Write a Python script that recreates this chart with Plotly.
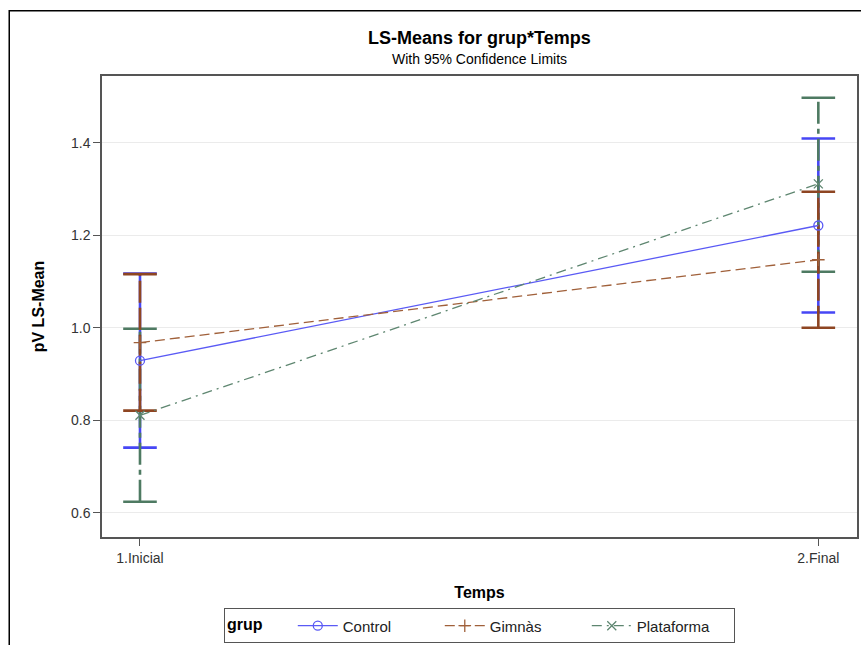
import plotly.graph_objects as go

categories = ["1.Inicial", "2.Final"]
groups = ["Control", "Gimnàs", "Plataforma"]

means = {
    "Control": [0.929, 1.221],
    "Gimnàs": [0.968, 1.147],
    "Plataforma": [0.811, 1.311],
}
lower = {
    "Control": [0.741, 1.033],
    "Gimnàs": [0.821, 1.000],
    "Plataforma": [0.624, 1.121],
}
upper = {
    "Control": [1.117, 1.409],
    "Gimnàs": [1.116, 1.294],
    "Plataforma": [0.998, 1.497],
}

colors = {"Control": "#4646F5", "Gimnàs": "#8E4522", "Plataforma": "#4E7A62"}
line_colors = {"Control": "#5A5AF5", "Gimnàs": "#A0603A", "Plataforma": "#5E8670"}
dashes = {"Control": "solid", "Gimnàs": "10px,5px", "Plataforma": "10px,5px,2px,5px"}
err_dashes = {"Control": "solid", "Gimnàs": "22px,5px", "Plataforma": "22px,5px,5px,5px"}
symbols = {"Control": "circle-open", "Gimnàs": "cross-thin-open", "Plataforma": "x-thin-open"}

FONT = "Liberation Sans, Arial, sans-serif"

fig = go.Figure()

# error bars (whiskers with caps)
for g in ["Control", "Plataforma", "Gimnàs"]:
    for i, c in enumerate(categories):
        fig.add_trace(go.Scatter(
            x=[c, c], y=[lower[g][i], upper[g][i]],
            mode="lines+markers",
            line=dict(color=colors[g], width=2.6, dash=err_dashes[g]),
            marker=dict(symbol="line-ew-open", size=24,
                        line=dict(color=colors[g], width=2.6)),
            showlegend=False, hoverinfo="skip",
        ))

# mean lines
for g in groups:
    fig.add_trace(go.Scatter(
        x=categories, y=means[g], name=g,
        mode="lines+markers",
        line=dict(color=line_colors[g], width=1.3, dash=dashes[g]),
        marker=dict(symbol=symbols[g], size=9,
                    color=line_colors[g],
                    line=dict(color=line_colors[g], width=1.3)),
    ))

fig.update_layout(
    width=861, height=645,
    margin=dict(l=102, r=2, t=76, b=103),
    paper_bgcolor="white", plot_bgcolor="white",
    font=dict(family=FONT, size=14, color="#222"),
    showlegend=True,
    legend=dict(
        orientation="h", x=0.5, xanchor="center", y=-0.155, yanchor="top",
        bordercolor="#555", borderwidth=1,
        title=dict(text="<b>grup</b>\u00a0\u00a0\u00a0\u00a0\u00a0", font=dict(size=16, color="#000")),
        font=dict(size=15, color="#222"),
        entrywidth=92, entrywidthmode="pixels",
        itemwidth=40, tracegroupgap=0,
    ),
    xaxis=dict(
        type="category", range=[-0.056, 1.057],
        showline=True, linecolor="#555", linewidth=1.5, mirror=True,
        ticks="outside", ticklen=7, tickcolor="#555",
        showgrid=False, zeroline=False,
        tickfont=dict(size=14, color="#333"),
        title=dict(text="<b>Temps</b>", font=dict(size=16, color="#000"), standoff=22),
    ),
    yaxis=dict(
        range=[0.548, 1.544],
        tickvals=[0.6, 0.8, 1.0, 1.2, 1.4],
        ticktext=["0.6", "0.8", "1.0", "1.2", "1.4"],
        showline=True, linecolor="#555", linewidth=1.5, mirror=True,
        ticks="outside", ticklen=7, tickcolor="#555",
        showgrid=True, gridcolor="#EBEBEB", gridwidth=1, zeroline=False,
        tickfont=dict(size=14, color="#333"),
        title=dict(text="<b>pV LS-Mean</b>", font=dict(size=16, color="#000"), standoff=22),
    ),
    annotations=[
        dict(text="<b>LS-Means for grup*Temps</b>", xref="paper", yref="paper",
             x=0.5, y=(542 - 38) / 466, xanchor="center", yanchor="middle",
             showarrow=False, font=dict(size=18, color="#000", family=FONT)),
        dict(text="With 95% Confidence Limits", xref="paper", yref="paper",
             x=0.5, y=(542 - 59) / 466, xanchor="center", yanchor="middle",
             showarrow=False, font=dict(size=14, color="#000", family=FONT)),
    ],
    shapes=[
        dict(type="rect", xref="paper", yref="paper",
             x0=(9 - 102) / 757, x1=1.05, y0=-0.3, y1=(542 - 10) / 466,
             line=dict(color="#000", width=1.5), fillcolor="rgba(0,0,0,0)", layer="below"),
    ],
)

fig.write_html("out.html")
